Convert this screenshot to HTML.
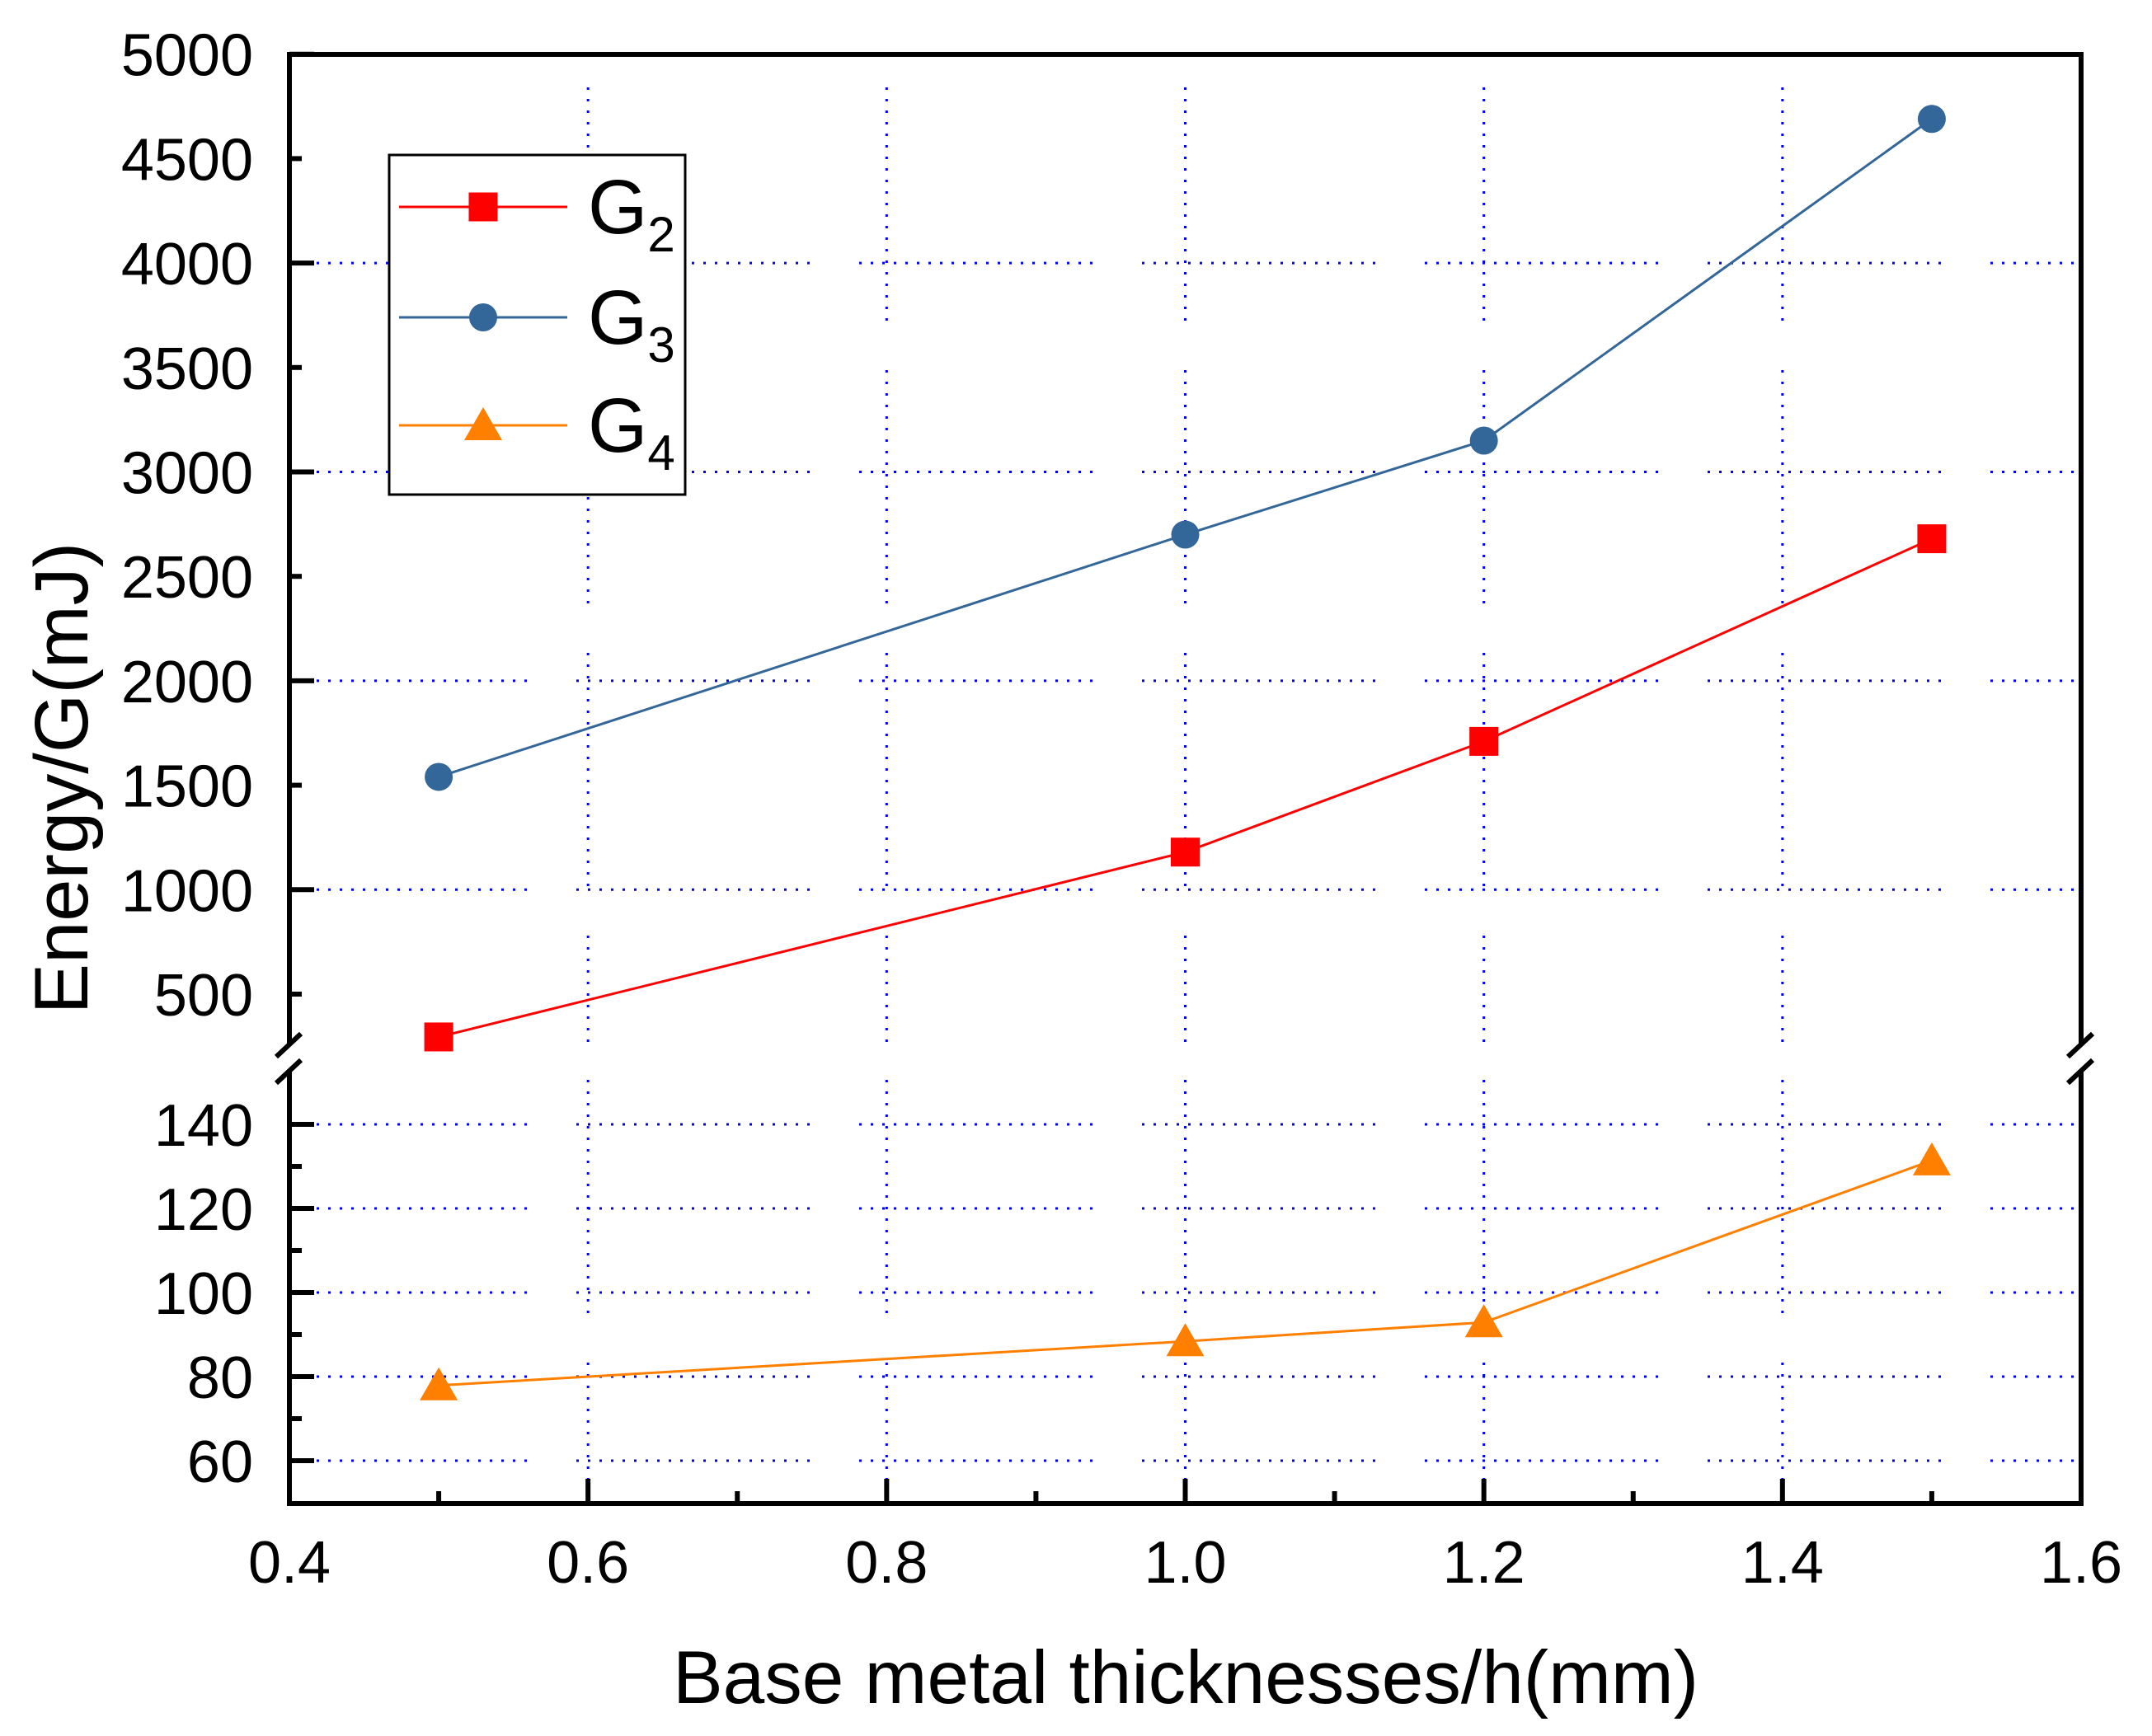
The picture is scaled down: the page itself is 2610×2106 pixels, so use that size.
<!DOCTYPE html>
<html><head><meta charset="utf-8"><style>
html,body{margin:0;padding:0;background:#fff;}
svg{display:block;font-family:"Liberation Sans",Arial,sans-serif;}
</style></head><body>
<svg id="chart" width="2610" height="2106" viewBox="0 0 2610 2106" xmlns="http://www.w3.org/2000/svg"></svg>
<script>
const categories = [0.5, 1.0, 1.2, 1.5];
const g2Values = [295, 1180, 1710, 2680];
const g3Values = [1540, 2700, 3150, 4690];
const g4Values = [77.5, 88, 92.5, 131];
const xTickLabels = ["0.4","0.6","0.8","1.0","1.2","1.4","1.6"];
const upperTickLabels = ["500","1000","1500","2000","2500","3000","3500","4000","4500","5000"];
const lowerTickLabels = ["60","80","100","120","140"];

const NS="http://www.w3.org/2000/svg";
const svg=document.getElementById('chart');
function mk(tag,attrs,parent){const e=document.createElementNS(NS,tag);for(const k in attrs)e.setAttribute(k,attrs[k]);(parent||svg).appendChild(e);return e;}

const L=351,R=2524,T=66,B=1824,UB=1268,LT=1300;
function xs(v){return L+(v-0.4)*(R-L)/1.2;}
function yUp(v){return 1206-(v-500)*0.2534;}
function yLo(v){return 1670-(v-80)*5.1;}

const dash='3 11 3 11 3 11 3 11 3 11 3 11 3 11 3 11 3 11 3 11 3 11 3 11 3 11 3 11 3 11 3 11 3 11 3 11 3 11 3 11 3 60';
// grid
const grid=mk('g',{});


[0.6,0.8,1.0,1.2,1.4].forEach(v=>{
  mk('line',{x1:xs(v),x2:xs(v),y1:T+40,y2:UB,stroke:'#0000ff','stroke-width':3,'stroke-dasharray':dash},grid);
  mk('line',{x1:xs(v),x2:xs(v),y1:LT+10,y2:B-5,stroke:'#0000ff','stroke-width':3,'stroke-dasharray':dash},grid);
});
[1000,2000,3000,4000].forEach(v=>{
  mk('line',{x1:L+5,x2:R-5,y1:yUp(v),y2:yUp(v),stroke:'#0000ff','stroke-width':3,'stroke-dasharray':dash},grid);
});
[60,80,100,120,140].forEach(v=>{
  mk('line',{x1:L+5,x2:R-5,y1:yLo(v),y2:yLo(v),stroke:'#0000ff','stroke-width':3,'stroke-dasharray':dash},grid);
});

// axes
const ax=mk('g',{stroke:'#000','stroke-width':6,fill:'none'});


mk('line',{x1:L,x2:R,y1:T,y2:T},ax);
mk('line',{x1:L,x2:R,y1:B,y2:B},ax);
mk('line',{x1:L,x2:L,y1:T-3,y2:UB},ax);
mk('line',{x1:L,x2:L,y1:LT,y2:B+3},ax);
mk('line',{x1:R,x2:R,y1:T-3,y2:UB},ax);
mk('line',{x1:R,x2:R,y1:LT,y2:B+3},ax);
[[L,UB],[L,LT],[R,UB],[R,LT]].forEach(p=>{
  mk('line',{x1:p[0]-16,y1:p[1]+14,x2:p[0]+14,y2:p[1]-14},ax);
});
for(let v=0.4;v<=1.601;v+=0.1){
  const major=Math.round(v*10)%2===0;
  mk('line',{x1:xs(v),x2:xs(v),y1:B,y2:B-(major?30:15)},ax);
}
for(let v=500;v<=5000;v+=500){
  const major=v%1000===0;
  mk('line',{x1:L,x2:L+(major?30:15),y1:yUp(v),y2:yUp(v)},ax);
}
for(let v=60;v<=140;v+=10){
  const major=v%20===0;
  mk('line',{x1:L,x2:L+(major?30:15),y1:yLo(v),y2:yLo(v)},ax);
}
xTickLabels.forEach(s=>{
  const t=mk('text',{x:xs(parseFloat(s)),y:1920,'font-size':72,'text-anchor':'middle'});
  
  
  t.textContent=s;
});
upperTickLabels.forEach(s=>{
  const t=mk('text',{x:307,y:yUp(parseFloat(s))+26,'font-size':72,'text-anchor':'end'});
  
  
  t.textContent=s;
});
lowerTickLabels.forEach(s=>{
  const t=mk('text',{x:307,y:yLo(parseFloat(s))+26,'font-size':72,'text-anchor':'end'});
  
  
  t.textContent=s;
});
const xt=mk('text',{x:1438,y:2066,'font-size':91,'text-anchor':'middle'});


xt.textContent='Base metal thicknesses/h(mm)';
const yt=mk('text',{x:0,y:0,'font-size':92,'text-anchor':'middle',transform:'translate(106,944) rotate(-90)'});


yt.textContent='Energy/G(mJ)';

function square(x,y,c,p){mk('rect',{x:x-17.5,y:y-17.5,width:35,height:35,fill:c},p);}
function circle(x,y,c,p){mk('circle',{cx:x,cy:y,r:17,fill:c},p);}
function tri(x,y,c,p){mk('polygon',{points:`${x},${y-22} ${x-23},${y+18} ${x+23},${y+18}`,fill:c},p);}
function series(vals,yf,color,marker,name){
  const g=mk('g',{});
  
  
  const pts=categories.map((c,i)=>xs(c)+','+yf(vals[i])).join(' ');
  mk('polyline',{points:pts,fill:'none',stroke:color,'stroke-width':3},g);
  categories.forEach((c,i)=>marker(xs(c),yf(vals[i]),color,g));
}
series(g3Values,yUp,'#336699',circle,'series-g3');
series(g2Values,yUp,'#ff0000',square,'series-g2');
series(g4Values,v=>yLo(v)-2,'#ff8000',tri,'series-g4');

const lg=mk('g',{});


mk('rect',{x:472,y:188,width:359,height:412,fill:'#fff',stroke:'#000','stroke-width':3},lg);
[[251,'#ff0000',square,'2'],[385,'#336699',circle,'3'],[516,'#ff8000',tri,'4']].forEach(e=>{
  const ge=mk('g',{},lg);
  
  
  mk('line',{x1:484,x2:688,y1:e[0],y2:e[0],stroke:e[1],'stroke-width':3},ge);
  e[2](586,e[0],e[1],ge);
  const t=mk('text',{x:713,y:e[0]+32,'font-size':93},ge);
  t.textContent='G';
  const s=mk('tspan',{'font-size':60,dy:22},t);
  s.textContent=e[3];
});
</script>
</body></html>
